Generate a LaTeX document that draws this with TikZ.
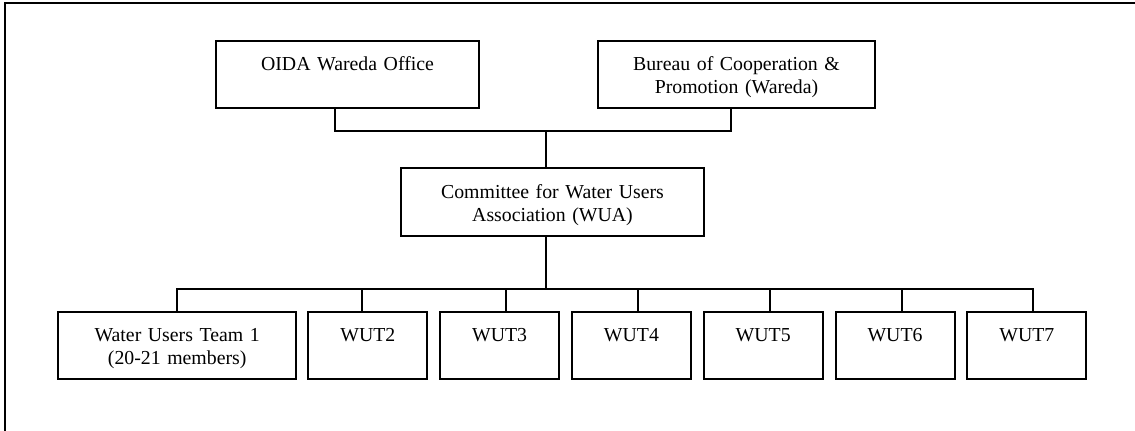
\documentclass[tikz,border=0pt]{standalone}
\usepackage{fontspec}
\setmainfont{Liberation Serif}
\tikzset{orgbox/.style={draw, line width=1pt, outer sep=0pt, anchor=north west, inner sep=0pt, align=center, text height=15pt, text depth=18.75pt}}
\begin{document}
\begin{tikzpicture}[x=0.5pt, y=-0.5pt, font=\fontsize{9.9}{11.4}\selectfont] % one unit = one pixel of the original
\useasboundingbox (0,0) rectangle (1135,431);
\draw [line width=1.2pt] (5,431) -- (5,3) -- (1135,3);

% offices on top
\node [orgbox, text width=131.8pt] (oida) at (215.7,41) {OIDA Wareda Office};
\node [orgbox, text width=138.5pt] (bureau) at (598,41) {Bureau of Cooperation \&\\ Promotion (Wareda)};
\draw [line width=1pt] ([xshift=-6.25pt]oida.south) -- ++(0,22.5) -| ([xshift=-2.75pt]bureau.south);

% committee
\node [orgbox, text width=151.5pt] (wua) at (401,168.3) {Committee for Water Users\\ Association (WUA)};
\draw [line width=1pt] ([xshift=-3.25pt]wua.north) -- ++(0,-37.8) coordinate (topbus);
\draw [line width=1pt] ([xshift=-3.25pt]wua.south) -- ++(0,52.3) coordinate (lowbus);

% water users teams
\node [orgbox, text width=118.9pt] (wut1) at (58.3,311.7) {Water Users Team 1\\ (20-21 members)};
\foreach \n/\x in {2/308.3,3/440.1,4/571.9,5/703.7,6/835.5,7/967.3}
  \node [orgbox, text width=59.5pt] (wut\n) at (\x,311.7) {WUT\n};
\draw [line width=1pt] (wut1.north) -- ++(0,-22.7) -| ([xshift=3.1pt]wut7.north);
\foreach \n/\s in {2/-3,3/3.4,4/3.3,5/3.3,6/3.4}
  \draw [line width=1pt] ([xshift=\s pt]wut\n.north) -- ++(0,-22.7);

\end{tikzpicture}
\end{document}
